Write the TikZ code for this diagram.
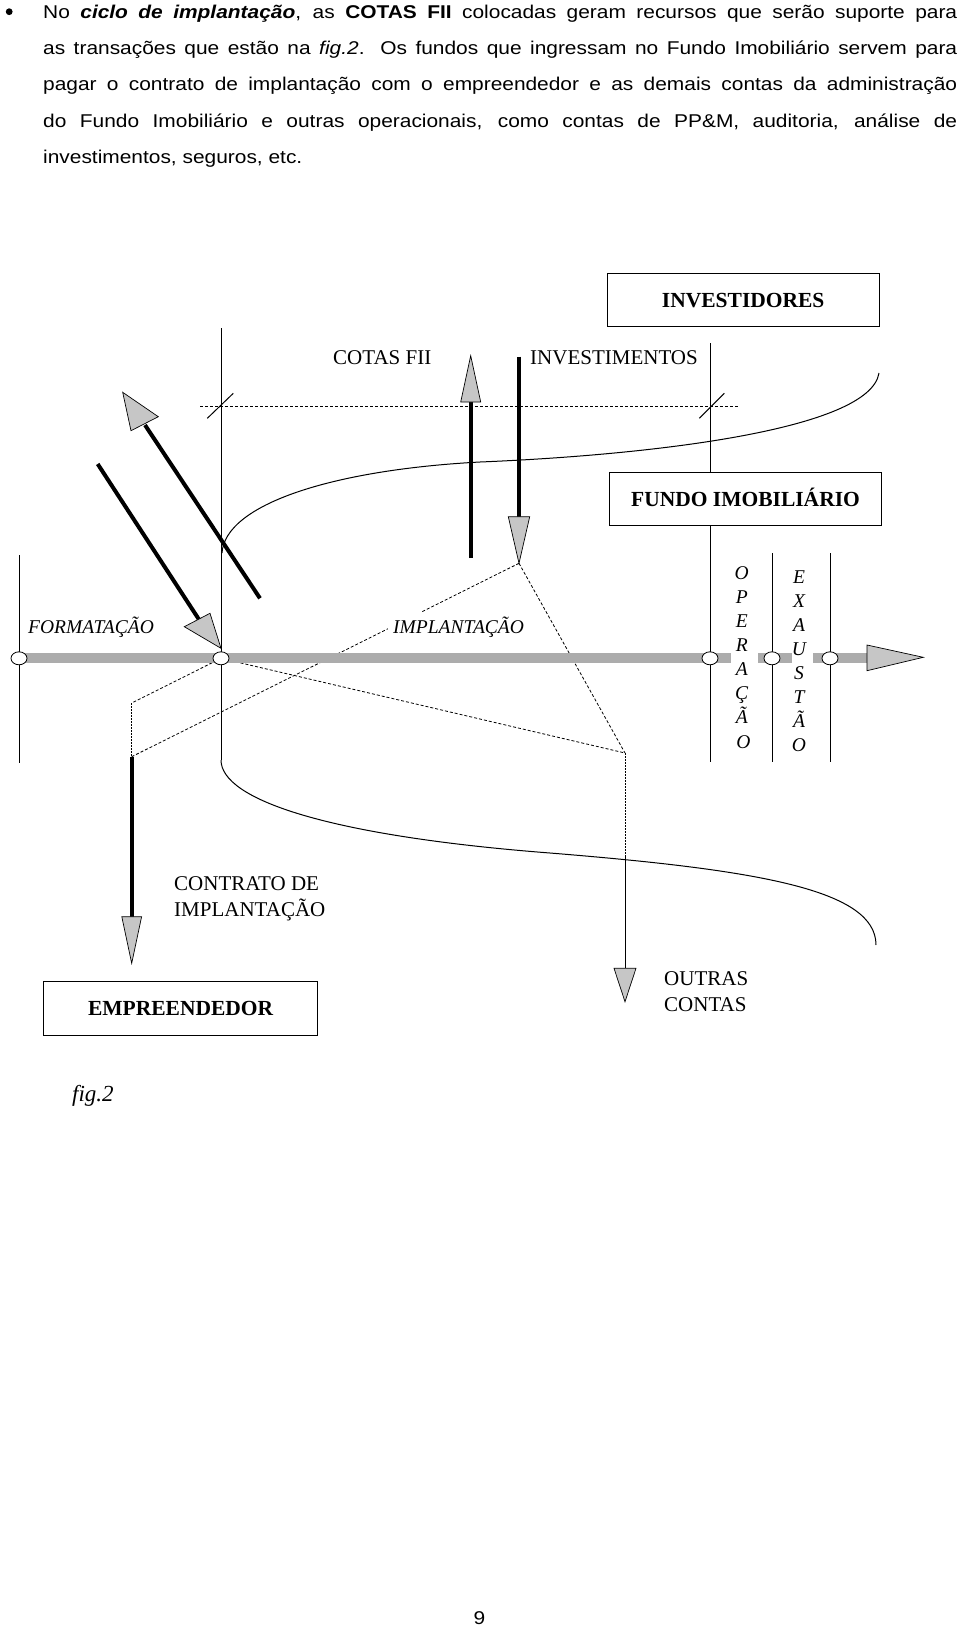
\documentclass[tikz,border=0pt]{standalone}
\usepackage{fontspec}
\setmainfont{Liberation Serif}
\newfontfamily\parafont[FakeStretch=1.13]{Liberation Sans}
\newfontfamily\pagefont[FakeStretch=1.13]{Liberation Sans}
\usetikzlibrary{shapes.geometric}
\tikzset{
  thinline/.style={line width=1pt},
  shaft/.style={line width=4pt},
  headfill/.style={draw=black,line width=0.7pt,fill=gray!45,line join=miter},
  dashline/.style={line width=0.8pt,dash pattern=on 3pt off 2pt},
  dotline/.style={line width=0.7pt,dash pattern=on 1.5pt off 1.5pt},
  bandfill/.style={fill=gray!65,draw=none},
  boxnode/.style={draw,line width=1.1pt,inner sep=0pt,text height=14.5pt,text depth=0pt,
    font=\fontsize{21.5}{24}\selectfont\bfseries},
  junction/.style={ellipse,draw,line width=0.8pt,fill=white,minimum width=16pt,minimum height=13pt,inner sep=0pt},
  lbl/.style={inner sep=0pt,font=\fontsize{21}{25}\selectfont},
  ilbl/.style={inner sep=0pt,font=\fontsize{19.5}{24}\selectfont\itshape},
  vlet/.style={anchor=base,inner sep=0pt,font=\fontsize{19.5}{24}\selectfont\itshape},
  paraline/.style={anchor=base west,inner sep=0pt,font=\parafont\fontsize{18.5}{36.3}\selectfont}
}
\begin{document}
\begin{tikzpicture}[x=1pt,y=-1pt]
\useasboundingbox (0,0) rectangle (960,1628);

% ---------- paragraph ----------
\fill (9.2,11.7) circle (3.4);
\node[paraline] (p1) at (43,18.3) {\makebox[914pt][s]{No \textbf{\textit{ciclo de implantação}}, as \textbf{COTAS FII} colocadas geram recursos que serão suporte para}};
\node[paraline] (p2) at (43,54.6) {\makebox[914pt][s]{as transações que estão na \textit{fig.2}. Os fundos que ingressam no Fundo Imobiliário servem para}};
\node[paraline] (p3) at (43,90.9) {\makebox[914pt][s]{pagar o contrato de implantação com o empreendedor e as demais contas da administração}};
\node[paraline] (p4) at (43,127.2) {\makebox[914pt][s]{do Fundo Imobiliário e outras operacionais, como contas de PP\&M, auditoria, análise de}};
\node[paraline] (p5) at (43,163.5) {investimentos, seguros, etc.};

% ---------- coordinates ----------
\coordinate (tipI) at (519,563.3);
\coordinate (cL) at (131.7,756.7);
\coordinate (cLtop) at (131.7,703);
\coordinate (cR) at (625,753);
\coordinate (jA) at (221,658.3);
\coordinate (ocTop) at (625,855);
\coordinate (ocBase) at (625,968.3);

% ---------- dashed construction lines ----------
\draw[dashline] (200,406) -- (739,406);
\draw[dashline] (tipI) -- (cL);
\draw[dashline] (tipI) -- (cR);
\draw[dashline] (jA) -- (cLtop);
\draw[dashline] (jA) -- (cR);
\draw[dotline] (cLtop) -- (cL);
\draw[dotline] (cR) -- (ocTop);
\draw[thinline] (ocTop) -- (ocBase);

% ticks
\draw[thinline] (207.3,418.3) -- (233.3,393.3);
\draw[thinline] (699.3,418.3) -- (724.3,393.3);

% ---------- boxes ----------
\node[boxnode,minimum width=271.7pt,minimum height=53.4pt] (inv) at (743.2,300) {INVESTIDORES};
\node[boxnode,minimum width=272.4pt,minimum height=53pt] (fundo) at (745.5,499.2) {FUNDO IMOBILIÁRIO};
\node[boxnode,minimum width=274pt,minimum height=54pt] (emp) at (180.6,1008.7) {EMPREENDEDOR};

% ---------- vertical lines ----------
\draw[thinline] (221,328) -- (221,760);
\draw[thinline] (19,555) -- (19,763);
\draw[thinline] (710,343) -- (fundo.north -| 710,0);
\draw[thinline] (fundo.south -| 710,0) -- (710,762);
\draw[thinline] (772,553) -- (772,762);
\draw[thinline] (830,553) -- (830,762);

% ---------- curves ----------
\draw[thinline] (222,553) .. controls (225,505) and (330,470) .. (480,462)
  .. controls (650,455) and (870,430) .. (879,373);
\draw[thinline] (221,760) .. controls (221,800) and (330,836) .. (550,853)
  .. controls (760,870) and (876,890) .. (876,945);

% ---------- thick arrows ----------
\draw[shaft] (470.7,558) -- (470.7,402);
\draw[headfill] (460.7,402) -- (480.7,402) -- (470.7,355.7) -- cycle;

\draw[shaft] (519,356.7) -- (519,516.7);
\draw[headfill] (508.3,516.7) -- (529.7,516.7) -- (tipI) -- cycle;

\draw[shaft] (260,598.3) -- (145,425);
\draw[headfill] (131,430.7) -- (158.3,416.7) -- (122.7,392.3) -- cycle;

\draw[shaft] (97.7,464) -- (199.3,620);
\draw[headfill] (184.3,626.7) -- (210,613.3) -- (221,648.3) -- cycle;

\draw[shaft] (cL) -- (131.7,916.7);
\draw[headfill] (121.8,916.7) -- (141.6,916.7) -- (131.7,963.3) -- cycle;

\draw[headfill] (614,968.3) -- (636,968.3) -- (625,1001.7) -- cycle;

% ---------- timeline ----------
\fill[bandfill] (19,653.3) rectangle (730.7,663.3);
\fill[bandfill] (757.7,653.3) rectangle (791.7,663.3);
\fill[bandfill] (813,653.3) rectangle (867,663.3);
\draw[headfill] (867,645) -- (867,670.7) -- (923.3,657.3) -- cycle;

\node[junction] (j0) at (19,658.3) {};
\node[junction] (j1) at (jA) {};
\node[junction] (j2) at (710,658.3) {};
\node[junction] (j3) at (772,658.3) {};
\node[junction] (j4) at (830,658.3) {};

% ---------- labels ----------
\node[lbl,anchor=base west] (cotas) at (333,364) {COTAS FII};
\node[lbl,anchor=base west] (invest) at (530,364) {INVESTIMENTOS};
\node[ilbl,anchor=base west] (form) at (28,633.3) {FORMATAÇÃO};
\node[ilbl,anchor=base west,fill=white,inner sep=5pt] (impl) at (388,633.3) {IMPLANTAÇÃO};
\node[lbl,anchor=base west] (contr1) at (174,890) {CONTRATO DE};
\node[lbl,anchor=base west] (contr2) at (174,916.7) {IMPLANTAÇÃO};
\node[lbl,anchor=base west] (out1) at (664,985) {OUTRAS};
\node[lbl,anchor=base west] (out2) at (664,1011.7) {CONTAS};
\node[ilbl,anchor=base west,font=\fontsize{23}{26}\selectfont\itshape] (fig) at (72,1101.7) {fig.2};

% vertical words
\node[vlet] (o1) at (741.7,579.3) {O};
\node[vlet] (o2) at (741.7,603.4) {P};
\node[vlet] (o3) at (741.7,627.5) {E};
\node[vlet] (o4) at (741.7,651.6) {R};
\node[vlet] (o5) at (741.7,675.7) {A};
\node[vlet] (o6) at (741.7,699.8) {Ç};
\node[vlet] (o7) at (741.7,723.9) {Ã};
\node[vlet] (o8) at (743.5,748) {O};

\node[vlet] (e1) at (799,583.3) {E};
\node[vlet] (e2) at (799,607.3) {X};
\node[vlet] (e3) at (799,631.3) {A};
\node[vlet] (e4) at (799,655.3) {U};
\node[vlet] (e5) at (799,679.3) {S};
\node[vlet] (e6) at (799,703.3) {T};
\node[vlet] (e7) at (799,727.3) {Ã};
\node[vlet] (e8) at (799,751.3) {O};

% page number
\node[anchor=base,inner sep=0pt,font=\pagefont\fontsize{18.5}{20}\selectfont] (pg) at (479.5,1624) {9};
\end{tikzpicture}
\end{document}
